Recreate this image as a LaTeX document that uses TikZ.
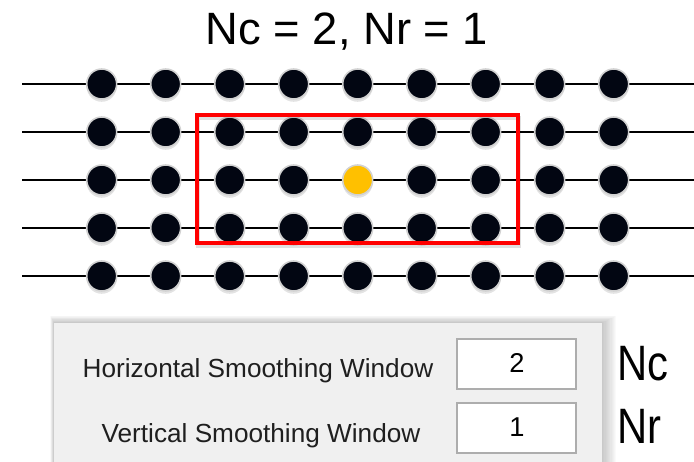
\documentclass[tikz,border=0pt]{standalone}
\usepackage{fontspec}
\setmainfont{Liberation Sans}
\usetikzlibrary{shadows,backgrounds}
\definecolor{dotFill}{HTML}{020612}
\definecolor{dotRim}{HTML}{D2D2D2}
\definecolor{centreFill}{HTML}{FFC000}
\definecolor{panelFill}{HTML}{F0F0F0}
\definecolor{boxRim}{HTML}{ADADAD}
\begin{document}
\begin{tikzpicture}[x=0.02cm, y=-0.02cm,
    dot/.style={circle, draw=dotRim, line width=0.9pt, fill=dotFill, minimum size=0.6cm, inner sep=0pt, drop shadow={shadow xshift=0pt, shadow yshift=-1.6pt, opacity=0.22}},
    centre/.style={dot, fill=centreFill},
    wire/.style={line width=1.1pt, black},
    window/.style={draw=red, line width=2.3pt},
    field/.style={rectangle, draw=boxRim, line width=0.9pt, fill=white, minimum width=2.38cm, minimum height=1cm, inner sep=0pt},
    label/.style={font=\fontsize{14.9}{17}\selectfont, text=black!88, inner sep=0pt},
    digit/.style={font=\fontsize{15.5}{17}\selectfont, inner sep=0pt},
    param/.style={font=\fontsize{28.3}{32}\selectfont, inner sep=0pt, anchor=west}
]
    \useasboundingbox (0,0) rectangle (694,462);

    % title
    \node[font=\fontsize{25.8}{30}\selectfont, inner sep=0pt, anchor=base] (title) at (347,45) {Nc = 2, Nr = 1};

    % grid of samples
    \foreach \r/\y in {1/84,2/132,3/180,4/228,5/276}{
        \foreach \c in {1,...,9}{
            \ifnum\r\c=35 \def\sty{centre}\else\def\sty{dot}\fi
            \node[\sty] (d-\r-\c) at ({101.7+64*(\c-1)},\y) {};
        }
        \coordinate (l-\r) at (22,\y);
        \coordinate (e-\r) at (694,\y);
    }
    \begin{pgfonlayer}{background}
        \foreach \r in {1,...,5}{
            \draw[wire] (l-\r) -- (d-\r-1);
            \foreach \c [evaluate=\c as \n using int(\c+1)] in {1,...,8}
                \draw[wire] (d-\r-\c) -- (d-\r-\n);
            \draw[wire] (d-\r-9) -- (e-\r);
        }
    \end{pgfonlayer}

    % smoothing window
    \draw[black, opacity=0.12, line width=2.3pt] (198,118) rectangle (519,246);
    \draw[window] (197,115) rectangle (518,243);

    % dialog panel
    \foreach \s in {1,...,12}
        \fill[black, opacity=0.018] ({54-0.3*\s},{323-0.6*\s}) rectangle ({602+1.2*\s},470);
    \fill[panelFill] (54,323) rectangle (602,470);

    \node[field] (hbox) at (516.5,364) {};
    \node[field] (vbox) at (516.5,428) {};
    \node[digit, anchor=base] (hval) at (517,373) {2};
    \node[digit, anchor=base] (vval) at (517,437) {1};

    \node[label, anchor=base] (hlabel) at (258,378) {Horizontal Smoothing Window};
    \node[label, anchor=base] (vlabel) at (261,443) {Vertical Smoothing Window};

    \node[param] (nc) at (617,363.5) {\scalebox{0.84}[1]{Nc}};
    \node[param] (nr) at (617,426.5) {\scalebox{0.84}[1]{Nr}};
\end{tikzpicture}
\end{document}
